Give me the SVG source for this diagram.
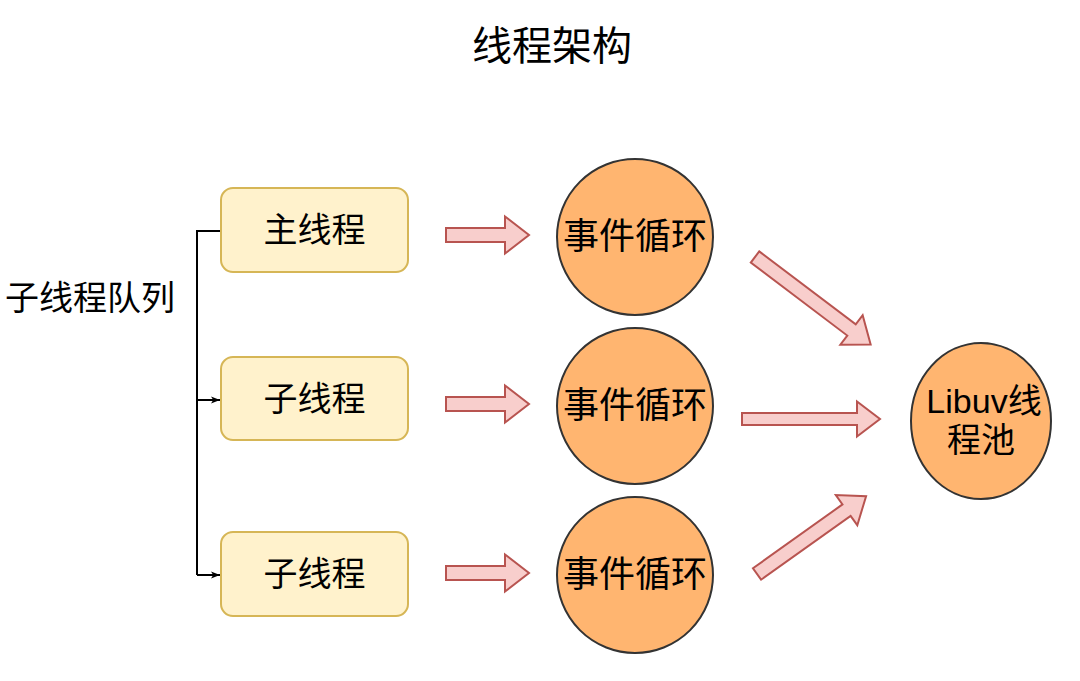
<svg xmlns="http://www.w3.org/2000/svg" width="1080" height="681" viewBox="0 0 1080 681">
<style>
.t{font-family:"Liberation Sans","Noto Sans CJK SC",sans-serif;fill:#000;text-anchor:middle;dominant-baseline:central}
.box{fill:#fff2cc;stroke:#d6b656;stroke-width:2}
.loop{fill:#ffb570;stroke:#333;stroke-width:2}
.blk{fill:#f8cecc;stroke:#b85450;stroke-width:2;stroke-linejoin:miter}
.ln{fill:none;stroke:#000;stroke-width:2}
</style>
<defs>
<marker id="ah" viewBox="0 0 10 10" refX="10" refY="5" markerWidth="9" markerHeight="9" orient="auto" markerUnits="userSpaceOnUse">
<path d="M0,1 L10,5 L0,9 L2.5,5 Z" fill="#000"/>
</marker>
</defs>
<rect width="1080" height="681" fill="#fff"/>
<text class="t" x="552" y="46" font-size="40">线程架构</text>

<g id="connectors">
<path class="ln" d="M221,231 H197 V575"/>
<path class="ln" d="M197,400 H220" marker-end="url(#ah)"/>
<path class="ln" d="M197,575 H220" marker-end="url(#ah)"/>
<path class="blk" transform="translate(446,235)" d="M0,-7 H59 V-18.5 L83,0 L59,18.5 V7 H0 Z"/>
<path class="blk" transform="translate(446,404)" d="M0,-7 H59 V-18.5 L83,0 L59,18.5 V7 H0 Z"/>
<path class="blk" transform="translate(446,573)" d="M0,-7 H59 V-18.5 L83,0 L59,18.5 V7 H0 Z"/>
<path class="blk" transform="translate(742,419)" d="M0,-6 H115 V-17.5 L138,0 L115,17.5 V6 H0 Z"/>
<path class="blk" transform="translate(755,257) rotate(37.1)" d="M0,-7 H121 V-18.5 L145,0 L121,18.5 V7 H0 Z"/>
<path class="blk" transform="translate(757,574) rotate(-35.5)" d="M0,-7 H110 V-18.5 L134,0 L110,18.5 V7 H0 Z"/>
</g>

<g id="queue-label">
<text class="t" x="90" y="298" font-size="34">子线程队列</text>
</g>

<g id="main-thread">
<rect class="box" x="221" y="188" width="187" height="84" rx="12"/>
<text class="t" x="314.5" y="230" font-size="34">主线程</text>
</g>
<g id="sub-thread-1">
<rect class="box" x="221" y="357" width="187" height="83" rx="12"/>
<text class="t" x="314.5" y="399" font-size="34">子线程</text>
</g>
<g id="sub-thread-2">
<rect class="box" x="221" y="532" width="187" height="84" rx="12"/>
<text class="t" x="314.5" y="574" font-size="34">子线程</text>
</g>

<g id="event-loop-1">
<circle class="loop" cx="635" cy="237" r="78"/>
<text class="t" x="635" y="236" font-size="36">事件循环</text>
</g>
<g id="event-loop-2">
<circle class="loop" cx="635" cy="406" r="78"/>
<text class="t" x="635" y="405" font-size="36">事件循环</text>
</g>
<g id="event-loop-3">
<circle class="loop" cx="635" cy="575" r="78"/>
<text class="t" x="635" y="574" font-size="36">事件循环</text>
</g>

<g id="libuv-pool">
<ellipse class="loop" cx="981" cy="421" rx="70" ry="78"/>
<text class="t" x="984" y="401" font-size="34">Libuv线</text>
<text class="t" x="981" y="440" font-size="34">程池</text>
</g>
</svg>
